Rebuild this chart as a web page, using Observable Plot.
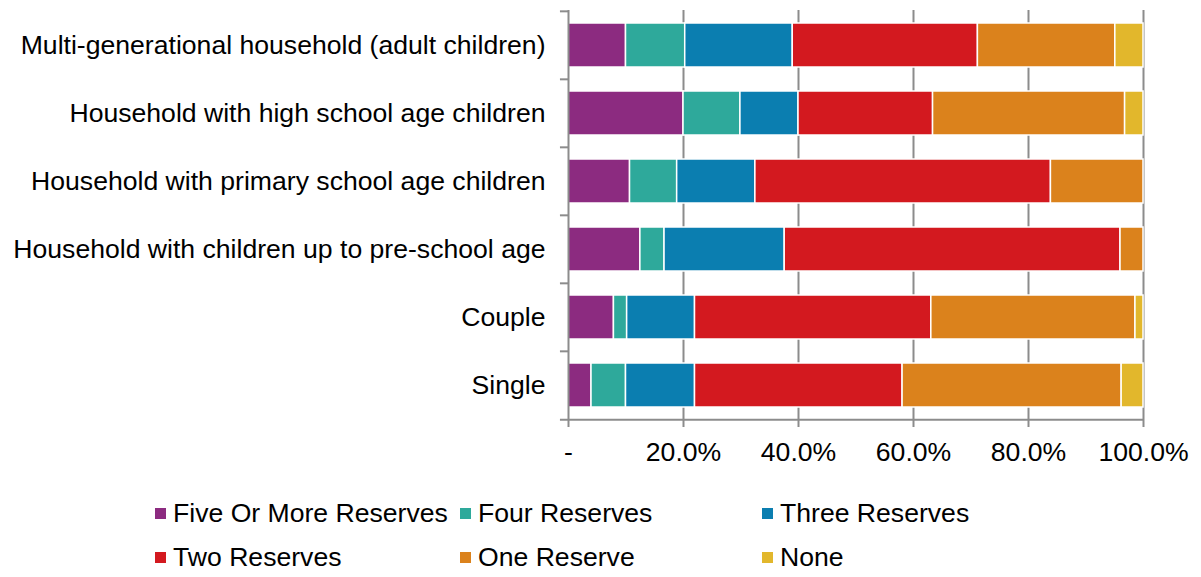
<!DOCTYPE html>
<html>
<head>
<meta charset="utf-8">
<script src="https://cdn.jsdelivr.net/npm/d3@7"></script>
<script src="https://cdn.jsdelivr.net/npm/@observablehq/plot@0.6"></script>
<style>
  html, body { margin: 0; padding: 0; background: #fff; }
  body { font-family: Arial, "Liberation Sans", sans-serif; width: 1201px; }
  #legend { position: relative; height: 90px; font-size: 26.6px; color: #000; }
  .item { position: absolute; display: flex; align-items: center; white-space: nowrap; height: 44px; }
  .sw { width: 11px; height: 11px; margin-right: 7px; flex: none; }
</style>
</head>
<body>
<div id="chart"></div>
<div id="legend"></div>
<script>
const categories = [
  "Multi-generational household (adult children)",
  "Household with high school age children",
  "Household with primary school age children",
  "Household with children up to pre-school age",
  "Couple",
  "Single"
];
const seriesNames = ["Five Or More Reserves", "Four Reserves", "Three Reserves", "Two Reserves", "One Reserve", "None"];
const seriesColors = ["#8c2b80", "#2ea99b", "#0b7eb0", "#d3191f", "#db821c", "#e2b72c"];

const fiveOrMore = [10.0, 20.0, 10.7, 12.5, 7.9, 4.0];
const four       = [10.3,  9.9,  8.2,  4.2, 2.3, 6.0];
const three      = [18.7, 10.1, 13.6, 20.9, 11.8, 12.0];
const two        = [32.2, 23.4, 51.4, 58.4, 41.1, 36.1];
const one        = [23.9, 33.4, 16.1,  4.0, 35.5, 38.1];
const none       = [ 4.9,  3.2,  0.0,  0.0,  1.4,  3.8];

const xTicks = [0, 20, 40, 60, 80, 100];

const seriesValues = [fiveOrMore, four, three, two, one, none];
const table = [];
seriesNames.forEach((s, i) => {
  categories.forEach((c, j) => table.push({category: c, series: s, value: seriesValues[i][j]}));
});

const marginTop = 10, marginBottom = 60, height = 480;
const step = (height - marginTop - marginBottom) / categories.length;
const grey = "#8c8c8c";
const fs = 26.6;

const chart = Plot.plot({
  width: 1201,
  height,
  marginLeft: 568,
  marginRight: 58,
  marginTop,
  marginBottom,
  style: {fontFamily: 'Arial, "Liberation Sans", sans-serif', fontSize: fs + "px", color: "#000", background: "#fff"},
  x: {domain: [0, 100], axis: null},
  y: {domain: categories, paddingInner: 0.356, paddingOuter: 0.178, axis: null},
  color: {domain: seriesNames, range: seriesColors},
  marks: [
    Plot.ruleX(xTicks.filter(d => d > 0), {stroke: grey, strokeWidth: 2}),
    Plot.barX(table, {y: "category", x: "value", fill: "series", stroke: "white", strokeWidth: 1.5}),
    Plot.ruleX([0], {stroke: grey, strokeWidth: 2}),
    Plot.ruleY(categories, {y: d => d, x1: -1.4, x2: 0, dy: -step / 2, stroke: grey, strokeWidth: 2}),
    Plot.ruleY([categories[categories.length - 1]], {y: d => d, x1: -1.4, x2: 100, dy: step / 2, stroke: grey, strokeWidth: 2}),
    Plot.axisX({ticks: xTicks, tickSize: 7, tickPadding: 15, stroke: grey, strokeWidth: 2, fontSize: fs, label: null,
      tickFormat: d => d === 0 ? "-" : d.toFixed(1) + "%"}),
    Plot.axisY({tickSize: 0, tickPadding: 23, fontSize: fs, label: null})
  ]
});
document.getElementById("chart").appendChild(chart);

const legend = document.getElementById("legend");
const colX = [155, 460, 762];
seriesNames.forEach((s, i) => {
  const item = document.createElement("div");
  item.className = "item";
  item.style.left = colX[i % 3] + "px";
  item.style.top = (11 + Math.floor(i / 3) * 44) + "px";
  const sw = document.createElement("span");
  sw.className = "sw";
  sw.style.background = seriesColors[i];
  const tx = document.createElement("span");
  tx.textContent = s;
  item.appendChild(sw);
  item.appendChild(tx);
  legend.appendChild(item);
});
</script>
</body>
</html>
